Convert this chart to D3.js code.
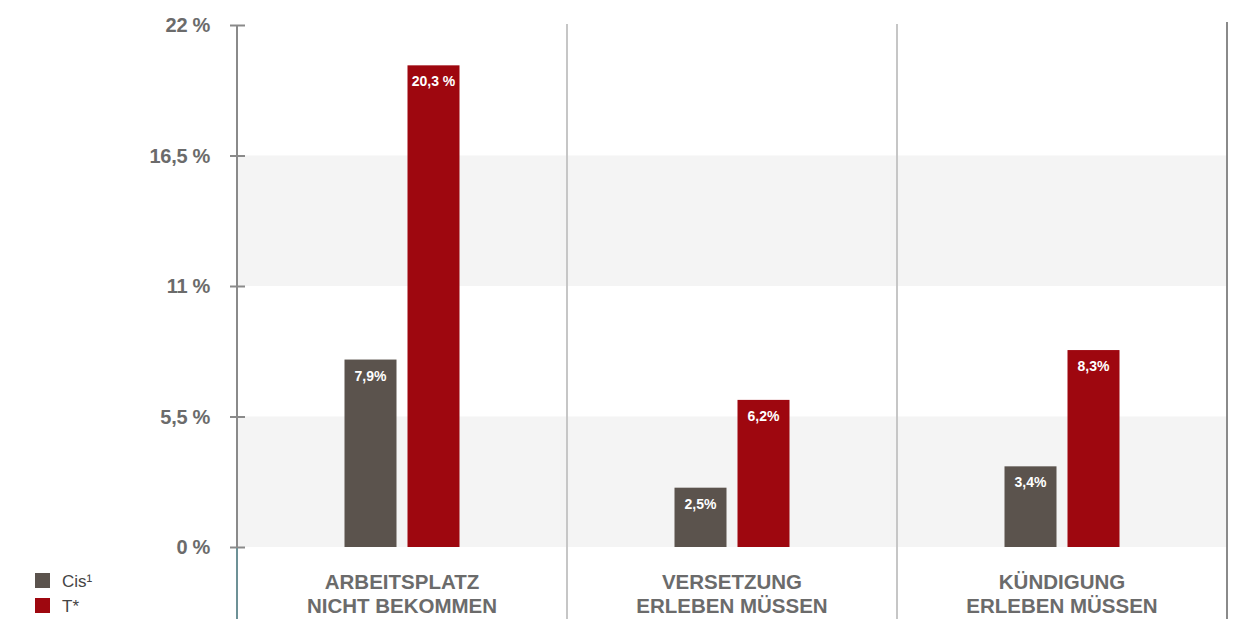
<!DOCTYPE html>
<html>
<head>
<meta charset="utf-8">
<script src="https://cdn.jsdelivr.net/npm/d3@7"></script>
<style>
  html, body { margin: 0; padding: 0; background: #fff; }
  svg { display: block; }
</style>
</head>
<body>
<svg id="chart" width="1236" height="619"></svg>
<script>
// ---- data ----
const categories = [["ARBEITSPLATZ", "NICHT BEKOMMEN"], ["VERSETZUNG", "ERLEBEN MÜSSEN"], ["KÜNDIGUNG", "ERLEBEN MÜSSEN"]];
const seriesNames = ["Cis¹", "T*"];
const cisValues = [7.9, 2.5, 3.4];
const tValues = [20.3, 6.2, 8.3];
const cisLabels = ["7,9%", "2,5%", "3,4%"];
const tLabels = ["20,3 %", "6,2%", "8,3%"];
const yTicks = [0, 5.5, 11, 16.5, 22];
const yTickLabels = ["0 %", "5,5 %", "11 %", "16,5 %", "22 %"];
const colors = ["#5b534d", "#9e070f"];

const svg = d3.select("#chart");
const W = 1236, H = 619;
const x0 = 237, x1 = 1227, yTop = 25, yBot = 547;

const y = d3.scaleLinear().domain([0, 22]).range([yBot, yTop]);
const xg = d3.scaleBand().domain(d3.range(categories.length)).range([x0, x1]).paddingInner(0).paddingOuter(0);
const barW = 52, gap = 11;
const xs = d3.scaleOrdinal().domain([0, 1]).range([-(gap / 2) - barW, gap / 2]);

// bands
const bands = [[0, 5.5], [11, 16.5]];
svg.selectAll("rect.band").data(bands).enter().append("rect")
  .attr("x", x0).attr("width", x1 - x0)
  .attr("y", d => y(d[1])).attr("height", d => y(d[0]) - y(d[1]))
  .attr("fill", "#f4f4f4");

// dividers
const dividerX = d3.range(1, categories.length).map(i => xg(i));
svg.selectAll("line.div").data(dividerX).enter().append("line")
  .attr("x1", d => d).attr("x2", d => d).attr("y1", 24).attr("y2", H)
  .attr("stroke", "#c6c6c6").attr("stroke-width", 2);
// right border
svg.append("line").attr("x1", x1).attr("x2", x1).attr("y1", 22).attr("y2", H)
  .attr("stroke", "#8a8a8a").attr("stroke-width", 2);

// y axis
const yAxis = d3.axisLeft(y).tickValues(yTicks).tickSize(0).tickFormat((d, i) => yTickLabels[i]);
const gy = svg.append("g").attr("transform", `translate(${x0},0)`).call(yAxis);
gy.select(".domain").remove();
gy.selectAll(".tick text").attr("x", -27).attr("dy", "0.34em")
  .attr("fill", "#6b6b6b").style("font-family", "'Liberation Sans', Arial, sans-serif")
  .style("font-size", "20px").style("font-weight", "bold").style("letter-spacing", "-0.3px");
gy.selectAll(".tick").append("line").attr("x1", -7).attr("x2", 8).attr("stroke", "#8a8a8a").attr("stroke-width", 2);
svg.append("line").attr("x1", x0).attr("x2", x0).attr("y1", yTop).attr("y2", yBot)
  .attr("stroke", "#8a8a8a").attr("stroke-width", 2);
svg.append("line").attr("x1", x0).attr("x2", x0).attr("y1", yBot + 1).attr("y2", H)
  .attr("stroke", "#6d9196").attr("stroke-width", 2);

// bars
const rows = [];
categories.forEach((c, i) => {
  rows.push({ g: i, s: 0, v: cisValues[i], label: cisLabels[i] });
  rows.push({ g: i, s: 1, v: tValues[i], label: tLabels[i] });
});
const cx = i => xg(i) + xg.bandwidth() / 2;
svg.selectAll("rect.bar").data(rows).enter().append("rect")
  .attr("x", d => cx(d.g) + xs(d.s)).attr("width", barW)
  .attr("y", d => y(d.v)).attr("height", d => y(0) - y(d.v))
  .attr("fill", d => colors[d.s]);
svg.selectAll("text.bl").data(rows).enter().append("text")
  .attr("x", d => cx(d.g) + xs(d.s) + barW / 2).attr("y", d => y(d.v) + 21)
  .attr("text-anchor", "middle").attr("fill", "#fff")
  .style("font-family", "'Liberation Sans Narrow', 'Arial Narrow', 'Liberation Sans', sans-serif")
  .style("font-size", "14px").style("font-weight", "bold")
  .text(d => d.label);

// category labels
categories.forEach((c, i) => {
  c.forEach((line, j) => {
    svg.append("text").attr("x", cx(i)).attr("y", 589 + j * 24)
      .attr("text-anchor", "middle").attr("fill", "#6b6b6b")
      .style("font-family", "'Liberation Sans', Arial, sans-serif")
      .style("font-size", "20.5px").style("font-weight", "bold")
      .text(line);
  });
});

// legend
const lg = svg.append("g");
seriesNames.forEach((n, i) => {
  lg.append("rect").attr("x", 35).attr("y", 573 + i * 25).attr("width", 15).attr("height", 15).attr("fill", colors[i]);
  lg.append("text").attr("x", 62).attr("y", 587 + i * 25).attr("fill", "#444")
    .style("font-family", "'Liberation Sans', Arial, sans-serif").style("font-size", "17px")
    .text(n);
});
</script>
</body>
</html>
